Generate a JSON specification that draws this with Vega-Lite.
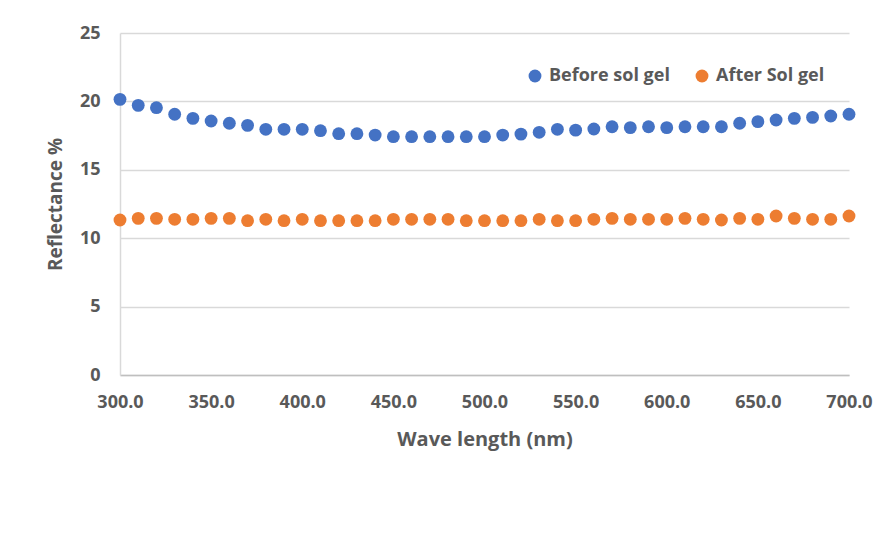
{
  "$schema": "https://vega.github.io/schema/vega-lite/v6.json",
  "width": 729,
  "height": 342,
  "autosize": {"type": "none"},
  "padding": {"left": 120, "top": 33, "right": 39, "bottom": 163},
  "background": "white",
  "config": {
    "view": {"stroke": null},
    "font": "Open Sans"
  },
  "datasets": {
    "before": [
      {"w":300,"r":20.15},{"w":310,"r":19.71},{"w":320,"r":19.54},{"w":330,"r":19.06},{"w":340,"r":18.76},
      {"w":350,"r":18.57},{"w":360,"r":18.4},{"w":370,"r":18.25},{"w":380,"r":17.96},{"w":390,"r":17.96},
      {"w":400,"r":17.96},{"w":410,"r":17.86},{"w":420,"r":17.64},{"w":430,"r":17.64},{"w":440,"r":17.54},
      {"w":450,"r":17.42},{"w":460,"r":17.42},{"w":470,"r":17.42},{"w":480,"r":17.42},{"w":490,"r":17.42},
      {"w":500,"r":17.42},{"w":510,"r":17.54},{"w":520,"r":17.61},{"w":530,"r":17.74},{"w":540,"r":17.96},
      {"w":550,"r":17.9},{"w":560,"r":17.98},{"w":570,"r":18.15},{"w":580,"r":18.08},{"w":590,"r":18.15},
      {"w":600,"r":18.08},{"w":610,"r":18.15},{"w":620,"r":18.15},{"w":630,"r":18.15},{"w":640,"r":18.4},
      {"w":650,"r":18.52},{"w":660,"r":18.64},{"w":670,"r":18.76},{"w":680,"r":18.83},{"w":690,"r":18.93},
      {"w":700,"r":19.06}
    ],
    "after": [
      {"w":300,"r":11.33},{"w":310,"r":11.45},{"w":320,"r":11.45},{"w":330,"r":11.38},{"w":340,"r":11.38},
      {"w":350,"r":11.45},{"w":360,"r":11.45},{"w":370,"r":11.28},{"w":380,"r":11.38},{"w":390,"r":11.28},
      {"w":400,"r":11.38},{"w":410,"r":11.28},{"w":420,"r":11.28},{"w":430,"r":11.28},{"w":440,"r":11.28},
      {"w":450,"r":11.38},{"w":460,"r":11.38},{"w":470,"r":11.38},{"w":480,"r":11.38},{"w":490,"r":11.28},
      {"w":500,"r":11.28},{"w":510,"r":11.28},{"w":520,"r":11.28},{"w":530,"r":11.38},{"w":540,"r":11.28},
      {"w":550,"r":11.28},{"w":560,"r":11.38},{"w":570,"r":11.45},{"w":580,"r":11.38},{"w":590,"r":11.38},
      {"w":600,"r":11.38},{"w":610,"r":11.45},{"w":620,"r":11.38},{"w":630,"r":11.33},{"w":640,"r":11.45},
      {"w":650,"r":11.38},{"w":660,"r":11.62},{"w":670,"r":11.45},{"w":680,"r":11.38},{"w":690,"r":11.38},
      {"w":700,"r":11.62}
    ]
  },
  "layer": [
    {
      "data": {"name": "before"},
      "transform": [{"calculate": "'Before sol gel'", "as": "series"}],
      "mark": {"type": "point", "filled": true, "opacity": 1, "size": 165}
    },
    {
      "data": {"name": "after"},
      "transform": [{"calculate": "'After Sol gel'", "as": "series"}],
      "mark": {"type": "point", "filled": true, "opacity": 1, "size": 165}
    }
  ],
  "encoding": {
    "x": {
      "field": "w", "type": "quantitative",
      "scale": {"domain": [300, 700], "nice": false, "zero": false},
      "axis": {
        "title": "Wave length (nm)",
        "values": [300,350,400,450,500,550,600,650,700],
        "format": ".1f",
        "labelFlush": false,
        "labelOverlap": false,
        "grid": false,
        "ticks": false,
        "domainColor": "#bfbfbf",
        "domainWidth": 1.5,
        "labelFont": "Open Sans",
        "labelFontSize": 18,
        "labelFontWeight": "bold",
        "labelColor": "#595959",
        "labelPadding": 18,
        "titleFont": "Open Sans",
        "titleFontSize": 20,
        "titleFontWeight": "bold",
        "titleColor": "#595959",
        "titlePadding": 18
      }
    },
    "y": {
      "field": "r", "type": "quantitative",
      "scale": {"domain": [0, 25], "nice": false},
      "axis": {
        "title": "Reflectance %",
        "values": [0,5,10,15,20,25],
        "grid": true,
        "gridColor": "#d9d9d9",
        "gridWidth": 1.5,
        "ticks": false,
        "domain": true,
        "domainColor": "#d9d9d9",
        "domainWidth": 1.5,
        "labelFont": "Open Sans",
        "labelFontSize": 18,
        "labelFontWeight": "bold",
        "labelColor": "#595959",
        "labelPadding": 20,
        "titleFont": "Open Sans",
        "titleFontSize": 19,
        "titleFontWeight": "bold",
        "titleColor": "#595959",
        "titlePadding": 14
      }
    },
    "color": {
      "field": "series", "type": "nominal",
      "scale": {"domain": ["Before sol gel", "After Sol gel"], "range": ["#4472C4", "#ED7D31"]},
      "legend": {
        "title": null,
        "orient": "none",
        "direction": "horizontal",
        "legendX": 406,
        "legendY": 34,
        "symbolType": "circle",
        "symbolSize": 165,
        "symbolOpacity": 1,
        "labelFont": "Open Sans",
        "labelFontSize": 18,
        "labelFontWeight": "bold",
        "labelColor": "#595959",
        "labelOffset": 5,
        "labelLimit": 300,
        "columnPadding": 23
      }
    }
  }
}
